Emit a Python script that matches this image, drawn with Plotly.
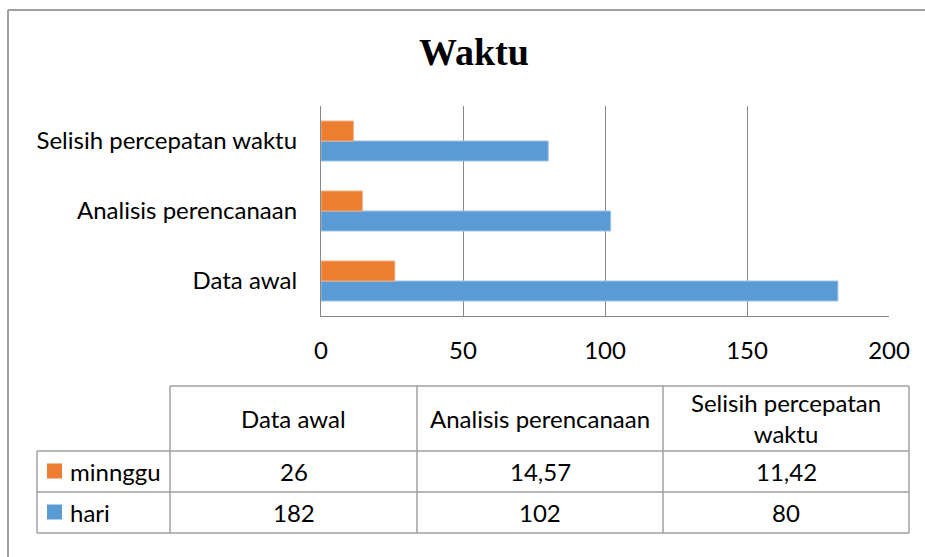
import plotly.graph_objects as go

categories = ["Data awal", "Analisis perencanaan", "Selisih percepatan waktu"]
header_labels = ["Data awal", "Analisis perencanaan", "Selisih percepatan<br>waktu"]
hari = [182, 102, 80]
minggu = [26, 14.57, 11.42]
series_names = ["minnggu", "hari"]
x_ticks = [0, 50, 100, 150, 200]

BLUE = "#5B9BD5"
ORANGE = "#ED7D31"
GRID = "#888888"
TBL = "#A0A0A0"
FONT = "Lato"
FS = 24

W, H = 925, 557


def px(x):
    return x / W


def py(y):
    return 1 - y / H


fig = go.Figure()
fig.add_trace(go.Bar(y=categories, x=hari, orientation="h", name="hari",
                     marker=dict(color=BLUE, line=dict(color="#9DC3E6", width=1))))
fig.add_trace(go.Bar(y=categories, x=minggu, orientation="h", name="minnggu",
                     marker=dict(color=ORANGE, line=dict(color="#F4B183", width=1))))

fig.update_layout(
    width=W, height=H,
    margin=dict(l=0, r=0, t=0, b=0, autoexpand=False),
    paper_bgcolor="white", plot_bgcolor="white",
    barmode="group", bargap=0.4286, bargroupgap=0,
    showlegend=False,
    font=dict(family=FONT, size=FS, color="#000000"),
    title=dict(text="<b>Waktu</b>", x=px(474), xanchor="center", y=py(52), yanchor="middle",
               font=dict(family="Liberation Serif", size=38, color="#000000")),
    xaxis=dict(domain=[px(321), px(889)], range=[0, 200], tickvals=x_ticks,
               showgrid=True, gridcolor=GRID, gridwidth=1.2, zeroline=False,
               showline=True, linecolor=GRID, linewidth=1.2,
               ticks="outside", ticklen=13, tickcolor="rgba(0,0,0,0)",
               tickfont=dict(family=FONT, size=FS), fixedrange=True, automargin=False),
    yaxis=dict(domain=[py(316), py(106)], type="category",
               showgrid=False, zeroline=False, showline=True, linecolor=GRID, linewidth=1.2,
               ticks="", ticklabelstandoff=18,
               tickfont=dict(family=FONT, size=FS), fixedrange=True, automargin=False),
)

shapes = []
# outer chart border (top and left visible)
shapes.append(dict(type="line", xref="paper", yref="paper", x0=px(8), x1=px(925), y0=py(10), y1=py(10),
                   line=dict(color="#A0A0A0", width=2)))
shapes.append(dict(type="line", xref="paper", yref="paper", x0=px(8), x1=px(8), y0=py(10), y1=py(557),
                   line=dict(color="#A0A0A0", width=2)))

cols = [37, 170, 417, 663, 909]
rows = [386, 451, 492, 533]
# horizontal table lines
shapes.append(dict(type="line", xref="paper", yref="paper", x0=px(170), x1=px(909), y0=py(386), y1=py(386),
                   line=dict(color=TBL, width=1.5)))
for r in rows[1:]:
    shapes.append(dict(type="line", xref="paper", yref="paper", x0=px(37), x1=px(909), y0=py(r), y1=py(r),
                       line=dict(color=TBL, width=1.5)))
# vertical table lines
shapes.append(dict(type="line", xref="paper", yref="paper", x0=px(37), x1=px(37), y0=py(451), y1=py(533),
                   line=dict(color=TBL, width=1.5)))
for c in cols[1:]:
    shapes.append(dict(type="line", xref="paper", yref="paper", x0=px(c), x1=px(c), y0=py(386), y1=py(533),
                       line=dict(color=TBL, width=1.5)))

annotations = []
for i, lab in enumerate(header_labels):
    cx = (cols[i + 1] + cols[i + 2]) / 2
    annotations.append(dict(text=lab, x=px(cx), y=py(418), xref="paper", yref="paper",
                            xanchor="center", yanchor="middle", showarrow=False,
                            font=dict(family=FONT, size=FS)))

row_series = [(series_names[0], minggu, ORANGE, 471), (series_names[1], hari, BLUE, 512)]
for name, vals, color, cy in row_series:
    shapes.append(dict(type="rect", xref="paper", yref="paper", x0=px(47), x1=px(62), y0=py(cy - 7.5), y1=py(cy + 7.5),
                       fillcolor=color, line=dict(width=0)))
    annotations.append(dict(text=name, x=px(68), y=py(cy), xref="paper", yref="paper",
                            xanchor="left", yanchor="middle", showarrow=False,
                            font=dict(family=FONT, size=FS)))
    for i, v in enumerate(vals):
        cx = (cols[i + 1] + cols[i + 2]) / 2
        annotations.append(dict(text=str(v).replace(".", ","), x=px(cx), y=py(cy), xref="paper", yref="paper",
                                xanchor="center", yanchor="middle", showarrow=False,
                                font=dict(family=FONT, size=FS)))

fig.update_layout(shapes=shapes, annotations=annotations)
fig.write_html("out.html", config={"displayModeBar": False},
               post_script="document.body.style.margin='0';document.body.style.overflow='hidden';")
